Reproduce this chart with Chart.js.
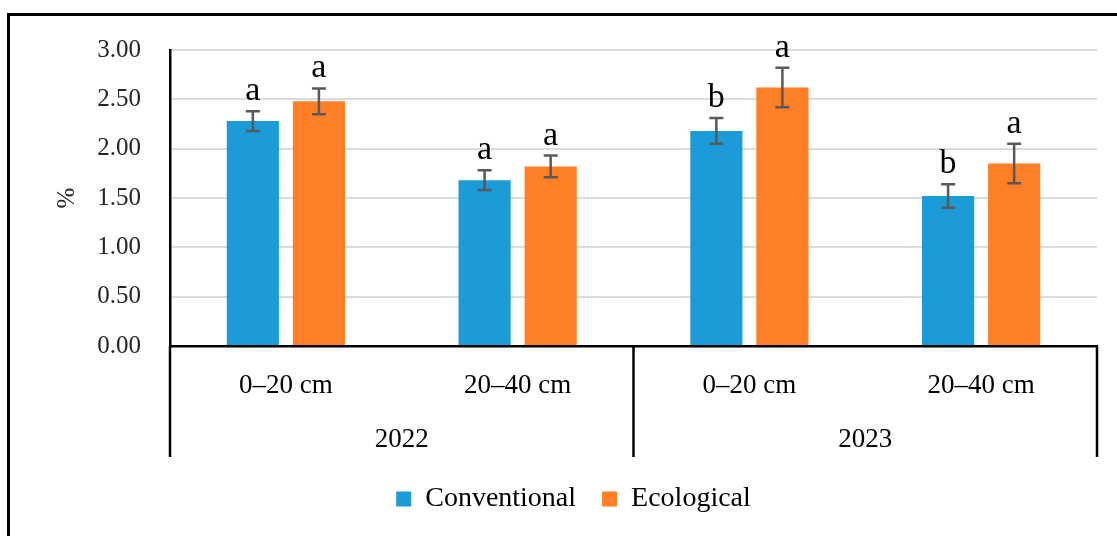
<!DOCTYPE html>
<html>
<head>
<meta charset="utf-8">
<script src="https://cdn.jsdelivr.net/npm/chart.js@4.4.1/dist/chart.umd.min.js"></script>
<style>
  html, body { margin: 0; padding: 0; background: #fff; overflow: hidden; }
  #wrap { position: relative; width: 1117px; height: 536px; }
  #frame { position: absolute; left: 7px; top: 13px; width: 1200px; height: 600px; border: 3px solid #000; box-sizing: border-box; }
  #chart { position: absolute; left: 0; top: 0; }
</style>
</head>
<body>
<div id="wrap">
  <div id="frame"></div>
  <canvas id="chart" width="1117" height="536"></canvas>
</div>
<script>
// ------------------------------------------------------------
// Data
// ------------------------------------------------------------
const depths = ['0–20 cm', '20–40 cm', '0–20 cm', '20–40 cm'];
const years = ['2022', '2023'];

const conventional = [2.28, 1.68, 2.18, 1.52];
const conventionalErr = [0.10, 0.10, 0.13, 0.12];
const conventionalLetters = ['a', 'a', 'b', 'b'];

const ecological = [2.48, 1.82, 2.62, 1.85];
const ecologicalErr = [0.13, 0.11, 0.20, 0.20];
const ecologicalLetters = ['a', 'a', 'a', 'a'];

const SERIF = '"Liberation Serif", "DejaVu Serif", serif';

// error bars, significance letters and the group separators
const annotate = {
  id: 'annotate',
  afterDatasetsDraw(chart) {
    const { ctx } = chart;
    const y = chart.scales.y;
    chart.data.datasets.forEach((ds, di) => {
      const meta = chart.getDatasetMeta(di);
      meta.data.forEach((bar, i) => {
        const v = ds.data[i], e = ds.errors[i];
        const yTop = y.getPixelForValue(v + e);
        const yBot = y.getPixelForValue(v - e);
        ctx.save();
        ctx.strokeStyle = '#595959';
        ctx.lineWidth = 2.5;
        ctx.beginPath();
        ctx.moveTo(bar.x, yTop); ctx.lineTo(bar.x, yBot);
        ctx.moveTo(bar.x - 7, yTop); ctx.lineTo(bar.x + 7, yTop);
        ctx.moveTo(bar.x - 7, yBot); ctx.lineTo(bar.x + 7, yBot);
        ctx.stroke();
        ctx.fillStyle = '#000';
        ctx.font = '34px ' + SERIF;
        ctx.textAlign = 'center';
        ctx.textBaseline = 'alphabetic';
        ctx.fillText(ds.letters[i], bar.x, yTop - 11);
        ctx.restore();
      });
    });
  },
  afterDraw(chart) {
    const { ctx, chartArea } = chart;
    const x = chart.scales.x, x2 = chart.scales.x2;
    const mid = (x.getPixelForTick(1) + x.getPixelForTick(2)) / 2;
    ctx.save();
    ctx.strokeStyle = '#000';
    ctx.lineWidth = 2.5;
    ctx.beginPath();
    [chartArea.left, mid, chartArea.right].forEach(px => {
      ctx.moveTo(px, chartArea.bottom);
      ctx.lineTo(px, x2.bottom - 2);
    });
    ctx.stroke();
    ctx.restore();
  }
};

new Chart(document.getElementById('chart'), {
  type: 'bar',
  data: {
    labels: depths,
    datasets: [
      { label: 'Conventional', data: conventional, errors: conventionalErr, letters: conventionalLetters,
        backgroundColor: '#1B9BD7', categoryPercentage: 0.57, barPercentage: 0.79 },
      { label: 'Ecological', data: ecological, errors: ecologicalErr, letters: ecologicalLetters,
        backgroundColor: '#FF7F27', categoryPercentage: 0.57, barPercentage: 0.79 }
    ]
  },
  options: {
    responsive: false,
    animation: false,
    layout: { padding: { left: 50, right: 20, top: 50, bottom: 13 } },
    plugins: {
      legend: {
        position: 'bottom',
        labels: { boxWidth: 15, boxHeight: 15, padding: 26, color: '#000', font: { family: SERIF, size: 28 } }
      },
      tooltip: { enabled: false }
    },
    scales: {
      y: {
        min: 0, max: 3,
        afterFit: s => { s.width = 120; },
        ticks: { stepSize: 0.5, padding: 29, color: '#262626', font: { family: SERIF, size: 25 },
                 callback: v => v.toFixed(2) },
        grid: { color: '#dcdcdc', lineWidth: 2, drawTicks: false },
        border: { color: '#000', width: 2.5 },
        title: { display: true, text: '%', color: '#262626', font: { family: SERIF, size: 25 }, padding: { top: 2, bottom: 0 } }
      },
      x: {
        afterFit: s => { s.height = 64; },
        grid: { display: false },
        border: { color: '#000', width: 2.5 },
        ticks: { padding: 16, color: '#000', font: { family: SERIF, size: 27 }, maxRotation: 0 }
      },
      x2: {
        type: 'category',
        position: 'bottom',
        labels: years,
        offset: true,
        afterFit: s => { s.height = 49; },
        grid: { display: false },
        border: { display: false },
        ticks: { padding: 6, color: '#000', font: { family: SERIF, size: 27 }, maxRotation: 0 }
      }
    }
  },
  plugins: [annotate]
});
</script>
</body>
</html>
